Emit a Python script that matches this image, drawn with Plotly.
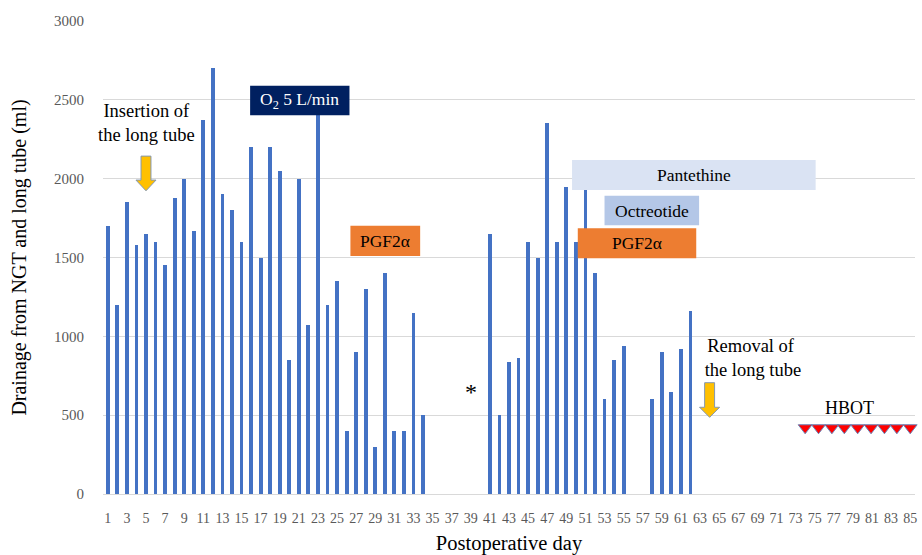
import plotly.graph_objects as go

# ---------------- data ----------------
days = list(range(1, 86))
drainage = ([1700, 1200, 1850, 1580, 1650, 1600, 1450, 1880, 2000, 1670,
             2370, 2700, 1900, 1800, 1600, 2200, 1500, 2200, 2050, 850,
             2000, 1070, 2450, 1200, 1350, 400, 900, 1300, 300, 1400,
             400, 400, 1150, 500]
            + [None] * 6
            + [1650, 500, 840, 860, 1600, 1500, 2350, 1600, 1950, 1600,
               1930, 1400, 600, 850, 940]
            + [None] * 2
            + [600, 900, 650, 920, 1160]
            + [None] * 23)

xtick_vals = list(range(1, 86, 2))
ytick_vals = [0, 500, 1000, 1500, 2000, 2500, 3000]

# treatment periods (start day, end day)
treat_names = ["O<sub>2</sub> 5 L/min", "PGF2α", "Pantethine", "Octreotide", "PGF2α"]
treat_start = [15.9, 26.4, 49.6, 53.0, 50.2]
treat_end = [26.3, 33.7, 75.1, 62.9, 62.6]

hbot_days = [74.0, 75.4, 76.8, 78.1, 79.5, 80.9, 82.3, 83.6, 85.0]
hbot_level = [420] * len(hbot_days)

insertion_day = 5
removal_day = 64
asterisk_day = 39

# ---------------- figure ----------------
SERIF = "Liberation Serif"
fig = go.Figure()
fig.add_trace(go.Bar(x=days, y=drainage, width=0.4,
                     marker=dict(color="#4472C4", line=dict(width=0)),
                     showlegend=False, hoverinfo="x+y"))
fig.add_trace(go.Scatter(x=hbot_days, y=hbot_level, mode="markers", cliponaxis=False,
                         marker=dict(symbol="triangle-down", size=12, color="#FF0000",
                                     line=dict(color="#6A84B8", width=1)),
                         showlegend=False))

# treatment boxes: (y bottom, y top, fill, text colour)
box_styles = [
    (2403, 2589, "#002060", "white"),
    (1509, 1701, "#ED7D31", "black"),
    (1928, 2118, "#DAE3F3", "black"),
    (1704, 1892, "#B4C7E7", "black"),
    (1495, 1685, "#ED7D31", "black"),
]
shapes = []
annotations = []
for name, s, e, (yb, yt, fill, tc) in zip(treat_names, treat_start, treat_end, box_styles):
    shapes.append(dict(type="rect", xref="x", yref="y", x0=s, x1=e, y0=yb, y1=yt,
                       fillcolor=fill, line=dict(width=0), layer="above"))
    annotations.append(dict(x=(s + e) / 2, y=(yb + yt) / 2, xref="x", yref="y",
                            text=name, showarrow=False,
                            font=dict(family=SERIF, size=17.5, color=tc)))


def down_arrow(xc, top, head, tip, bw=0.52, hw=1.05):
    return (f"M {xc-bw},{top} L {xc+bw},{top} L {xc+bw},{head} L {xc+hw},{head} "
            f"L {xc},{tip} L {xc-hw},{head} L {xc-bw},{head} Z")


shapes.append(dict(type="path", xref="x", yref="y",
                   path=down_arrow(insertion_day, 2143, 1991, 1923),
                   fillcolor="#FFC000", line=dict(color="#8497B0", width=1), layer="above"))
shapes.append(dict(type="path", xref="x", yref="y",
                   path=down_arrow(removal_day, 706, 550, 486),
                   fillcolor="#FFC000", line=dict(color="#8497B0", width=1), layer="above"))

annotations += [
    dict(x=insertion_day + 0.1, y=2350, xref="x", yref="y", text="Insertion of<br>the long tube",
         showarrow=False, font=dict(family=SERIF, size=18.5, color="black")),
    dict(x=removal_day + 4.3, y=862, xref="x", yref="y", text="Removal of<br> the long tube",
         showarrow=False, font=dict(family=SERIF, size=18.5, color="black")),
    dict(x=asterisk_day, y=650, xref="x", yref="y", text="*", showarrow=False,
         font=dict(family=SERIF, size=24, color="black")),
    dict(x=78.6, y=545, xref="x", yref="y", text="HBOT", showarrow=False,
         font=dict(family=SERIF, size=18, color="black")),
]

fig.update_layout(
    width=922, height=555,
    margin=dict(l=103, r=7, t=21, b=61),
    paper_bgcolor="white", plot_bgcolor="white",
    font=dict(family=SERIF),
    shapes=shapes, annotations=annotations,
    xaxis=dict(range=[0.5, 85.5], tickmode="array", tickvals=xtick_vals,
               ticktext=[str(v) for v in xtick_vals], showgrid=False, zeroline=False,
               showline=True, linecolor="#D9D9D9", linewidth=1, automargin=False,
               ticks="outside", ticklen=11, tickcolor="rgba(0,0,0,0)",
               tickfont=dict(family=SERIF, size=14, color="#595959"),
               title=dict(text="Postoperative day", standoff=12,
                          font=dict(family=SERIF, size=20.5, color="black"))),
    yaxis=dict(range=[0, 3000], tickmode="array", tickvals=ytick_vals,
               showgrid=True, gridcolor="#D9D9D9", gridwidth=1, zeroline=False,
               automargin=False,
               ticks="outside", ticklen=15, tickcolor="rgba(0,0,0,0)",
               tickfont=dict(family=SERIF, size=15, color="#595959"),
               title=dict(text="Drainage from NGT and long tube (ml)", standoff=22,
                          font=dict(family=SERIF, size=20, color="black"))),
    bargap=0,
)

fig.write_html("out.html", config={"displayModeBar": False},
               post_script="document.body.style.margin='0';document.body.style.overflow='hidden';")
